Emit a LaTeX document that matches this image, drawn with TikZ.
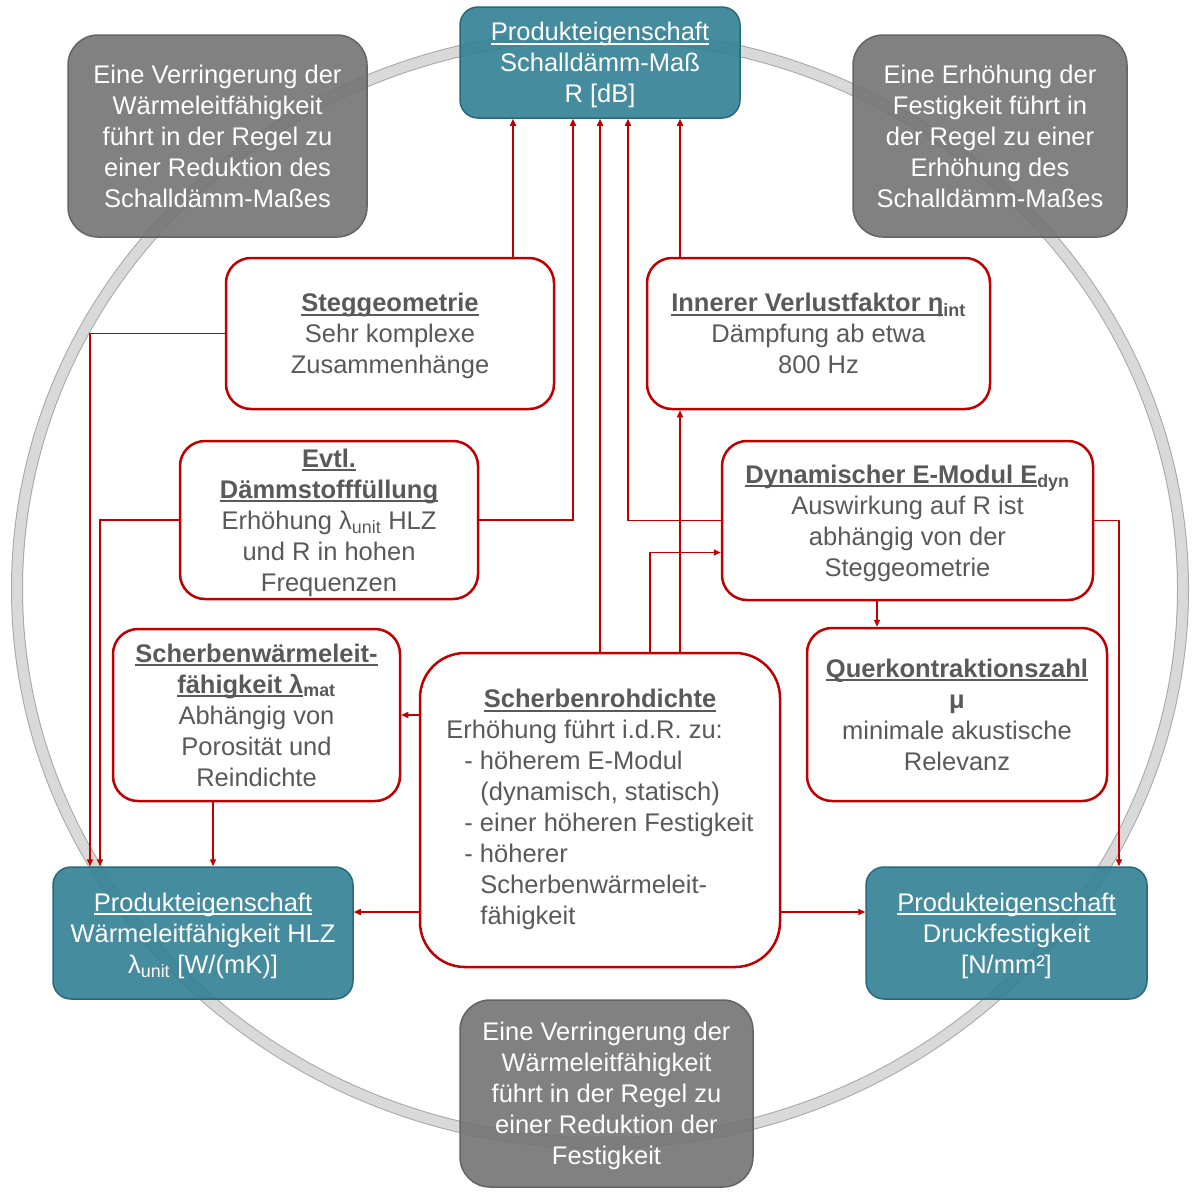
\documentclass[tikz,border=0pt]{standalone}
\usepackage{fontspec}
\setmainfont{Liberation Sans}
\definecolor{hlzteal}{RGB}{49, 128, 148}
\definecolor{hlztealdark}{RGB}{40, 105, 122}
\definecolor{hlzgray}{RGB}{115, 115, 115}
\definecolor{hlzgraydark}{RGB}{100, 100, 100}
\definecolor{hlzred}{RGB}{192, 0, 0}
\definecolor{hlztext}{RGB}{89, 89, 89}
\definecolor{ringfill}{RGB}{217, 217, 217}
\definecolor{ringedge}{RGB}{166, 166, 166}
\usetikzlibrary{
  arrows.meta,
  positioning,
}
\newcommand{\ultext}[1]{\setbox0=\hbox{#1}\rlap{\rule[-0.16em]{\wd0}{0.075em}}\box0}
\tikzset{
  >={Triangle[length=7pt,width=6pt]},
  every node/.style={font=\fontsize{25.5}{31}\selectfont, inner sep=2, text depth=0},
  prop/.style={draw=hlztealdark, line width=1.5, fill=hlzteal, fill opacity=0.9, text opacity=1, text=white, rounded corners=18, align=center, text depth=-6},
  note/.style={draw=hlzgraydark, line width=1.5, fill=hlzgray, fill opacity=0.9, text opacity=1, text=white, rounded corners=30, align=center},
  factor/.style={draw=hlzred, line width=2.5, fill=white, text=hlztext, rounded corners=25, align=center},
  link/.style={draw=hlzred, line width=1.5, ->},
}

\begin{document}
\begin{tikzpicture}[x=1pt, y=-1pt]
        \useasboundingbox (0,0) rectangle (1200,1200);

        % ring
        \draw[ringedge, line width=12] (600,589) ellipse [x radius=583, y radius=554];
        \draw[ringfill, line width=10] (600,589) ellipse [x radius=583, y radius=554];

        % product properties
        \node[prop, minimum width=280, minimum height=111] (R) at (600,62.5) {\ultext{Produkteigenschaft}\\Schalldämm-Maß\\R [dB]};
        \node[prop, minimum width=300, minimum height=132] (waerme) at (203,933) {\ultext{Produkteigenschaft}\\Wärmeleitfähigkeit HLZ\\λ\textsubscript{unit} [W/(mK)]};
        \node[prop, minimum width=281, minimum height=132] (druck) at (1006.5,933) {\ultext{Produkteigenschaft}\\Druckfestigkeit\\{[N/mm²]}};

        % notes
        \node[note, minimum width=299, minimum height=202] (noteTL) at (217.5,136) {Eine Verringerung der\\Wärmeleitfähigkeit\\führt in der Regel zu\\einer Reduktion des\\Schalldämm-Maßes};
        \node[note, minimum width=274, minimum height=202] (noteTR) at (990,136) {Eine Erhöhung der\\Festigkeit führt in\\der Regel zu einer\\Erhöhung des\\Schalldämm-Maßes};
        \node[note, minimum width=293, minimum height=187] (noteB) at (606.5,1093.5) {Eine Verringerung der\\Wärmeleitfähigkeit\\führt in der Regel zu\\einer Reduktion der\\Festigkeit};

        % factors
        \node[factor, minimum width=328, minimum height=151] (steg) at (390,333.5) {\textbf{\ultext{Steggeometrie}}\\Sehr komplexe\\Zusammenhänge};
        \node[factor, minimum width=343, minimum height=151] (innerer) at (818.5,333.5) {\textbf{\ultext{Innerer Verlustfaktor η}\textsubscript{int}}\\Dämpfung ab etwa\\800 Hz};
        \node[factor, minimum width=298, minimum height=158] (evtl) at (329,520) {\textbf{\ultext{Evtl.}}\\\textbf{\ultext{Dämmstofffüllung}}\\Erhöhung λ\textsubscript{unit} HLZ\\und R in hohen\\Frequenzen};
        \node[factor, minimum width=371, minimum height=159] (dyn) at (907.5,520.5) {\textbf{\ultext{Dynamischer E-Modul E}\textsubscript{dyn}}\\Auswirkung auf R ist\\abhängig von der\\Steggeometrie};
        \node[factor, minimum width=287, minimum height=172] (sw) at (256.5,715) {\textbf{\ultext{Scherbenwärmeleit-}}\\\textbf{\ultext{fähigkeit λ}\textsubscript{mat}}\\Abhängig von\\Porosität und\\Reindichte};
        \node[factor, minimum width=300, minimum height=173] (quer) at (957,714.5) {\textbf{\ultext{Querkontraktionszahl}}\\\textbf{μ}\\minimale akustische\\Relevanz};
        \node[factor, rounded corners=45, minimum width=360, minimum height=314, text depth=] (rohd) at (600,810) {%
          \begin{tabular}{@{}l@{}}
            \multicolumn{1}{c}{\textbf{\ultext{Scherbenrohdichte}}}\\
            Erhöhung führt i.d.R. zu:\\
            \hspace{18pt}- höherem E-Modul\\
            \hspace{34pt}(dynamisch, statisch)\\
            \hspace{18pt}- einer höheren Festigkeit\\
            \hspace{18pt}- höherer\\
            \hspace{34pt}Scherbenwärmeleit-\\
            \hspace{34pt}fähigkeit
          \end{tabular}};

        % entry points on R
        \coordinate (r1) at ([xshift=-87]R.south);
        \coordinate (r2) at ([xshift=-27]R.south);
        \coordinate (r4) at ([xshift=28]R.south);
        \coordinate (r5) at ([xshift=80]R.south);

        % connectors
        \draw[link] (r1 |- steg.north) -- (r1);
        \draw[link] (evtl.east) -| (r2);
        \draw[link] (rohd.north) -- (R.south);
        \draw[link] (dyn.west) -| (r4);
        \draw[link] (r5 |- innerer.north) -- (r5);
        \draw[link] (r5 |- rohd.north) -- (r5 |- innerer.south);
        \draw[link] ([xshift=50]rohd.north) |- ([yshift=-32]dyn.west);
        \draw[link] ([xshift=-30.5]dyn.south) -- ([xshift=-80]quer.north);
        \draw[link] (dyn.east) -| ([xshift=112.5]druck.north);
        \draw[link] (steg.west) -| ([xshift=-113]waerme.north);
        \draw[link] (evtl.west) -| ([xshift=-103]waerme.north);
        \draw[link] ([xshift=-43.5]sw.south) -- ([xshift=10]waerme.north);
        \draw[link] (sw.east -| rohd.west) -- (sw.east);
        \draw[link] ([yshift=-102]rohd.west) -- ([yshift=21]waerme.east);
        \draw[link] ([yshift=-102]rohd.east) -- ([yshift=21]druck.west);
\end{tikzpicture}
\end{document}
